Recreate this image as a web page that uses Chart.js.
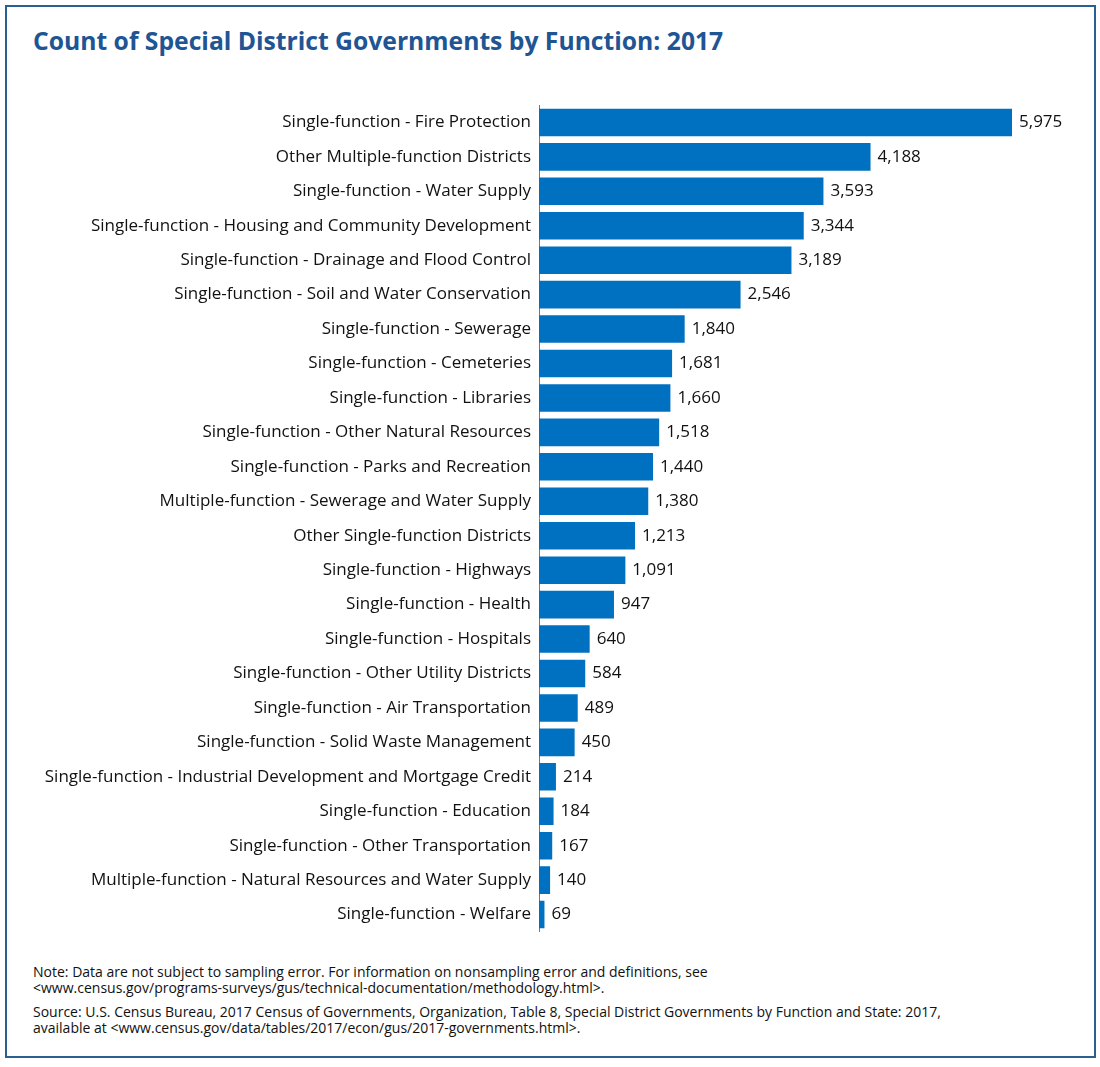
<!DOCTYPE html>
<html>
<head>
<meta charset="utf-8">
<script src="https://cdn.jsdelivr.net/npm/chart.js@4"></script>
<style>
  body { margin: 0; background: #fff; font-family: "Open Sans", sans-serif; }
  #frame {
    position: absolute; left: 5px; top: 5px; width: 1087px; height: 1049px;
    border: 2px solid #2b5f90;
  }
  #title {
    position: absolute; left: 33px; top: 24px; margin: 0;
    font: bold 24.7px "Open Sans", sans-serif; color: #205493;
  }
  #wrap { position: absolute; left: 0; top: 87px; width: 1100px; height: 863px; }
  .note {
    position: absolute; left: 33px; margin: 0;
    font: 14px "Open Sans", sans-serif; color: #111; line-height: 16px;
  }
</style>
</head>
<body>
<div id="frame"></div>
<h1 id="title">Count of Special District Governments by Function: 2017</h1>
<div id="wrap"><canvas id="myChart"></canvas></div>
<p class="note" style="top:964px">Note: Data are not subject to sampling error. For information on nonsampling error and definitions, see<br>&lt;www.census.gov/programs-surveys/gus/technical-documentation/methodology.html&gt;.</p>
<p class="note" style="top:1004px">Source: U.S. Census Bureau, 2017 Census of Governments, Organization, Table 8, Special District Governments by Function and State: 2017,<br>available at &lt;www.census.gov/data/tables/2017/econ/gus/2017-governments.html&gt;.</p>

<script>
"use strict";

const categories = [
  "Single-function - Fire Protection",
  "Other Multiple-function Districts",
  "Single-function - Water Supply",
  "Single-function - Housing and Community Development",
  "Single-function - Drainage and Flood Control",
  "Single-function - Soil and Water Conservation",
  "Single-function - Sewerage",
  "Single-function - Cemeteries",
  "Single-function - Libraries",
  "Single-function - Other Natural Resources",
  "Single-function - Parks and Recreation",
  "Multiple-function - Sewerage and Water Supply",
  "Other Single-function Districts",
  "Single-function - Highways",
  "Single-function - Health",
  "Single-function - Hospitals",
  "Single-function - Other Utility Districts",
  "Single-function - Air Transportation",
  "Single-function - Solid Waste Management",
  "Single-function - Industrial Development and Mortgage Credit",
  "Single-function - Education",
  "Single-function - Other Transportation",
  "Multiple-function - Natural Resources and Water Supply",
  "Single-function - Welfare",
];

const counts = [
  5975, 4188, 3593, 3344, 3189, 2546, 1840, 1681, 1660, 1518, 1440, 1380,
  1213, 1091, 947, 640, 584, 489, 450, 214, 184, 167, 140, 69,
];

// draw the numbers at the end of each bar
const valueLabels = {
  id: "valueLabels",
  afterDatasetsDraw(chart) {
    const ctx = chart.ctx;
    const meta = chart.getDatasetMeta(0);
    ctx.save();
    ctx.font = '17px "Open Sans", sans-serif';
    ctx.fillStyle = "#111";
    ctx.textBaseline = "middle";
    ctx.textAlign = "left";
    meta.data.forEach((bar, i) => {
      ctx.fillText(counts[i].toLocaleString("en-US"), bar.x + 7, bar.y);
    });
    ctx.restore();
  },
};

const ctx = document.getElementById("myChart");
const myChart = new Chart(ctx, {
  type: "bar",
  data: {
    labels: categories,
    datasets: [
      {
        data: counts,
        backgroundColor: "#0070c0",
        barPercentage: 0.8,
        categoryPercentage: 1,
      },
    ],
  },
  options: {
    indexAxis: "y",
    responsive: true,
    maintainAspectRatio: false,
    animation: false,
    layout: { padding: { top: 0, bottom: 0, left: 0, right: 86 } },
    plugins: {
      legend: { display: false },
      tooltip: { enabled: false },
    },
    scales: {
      x: {
        min: 0,
        max: 6000,
        display: false,
      },
      y: {
        afterFit(scale) {
          scale.width = 539;
        },
        grid: { display: false, drawTicks: false },
        border: { display: true, color: "#777", width: 1 },
        ticks: {
          padding: 8,
          color: "#111",
          font: { family: "Open Sans", size: 17 },
        },
      },
    },
  },
  plugins: [valueLabels],
});
</script>
</body>
</html>
